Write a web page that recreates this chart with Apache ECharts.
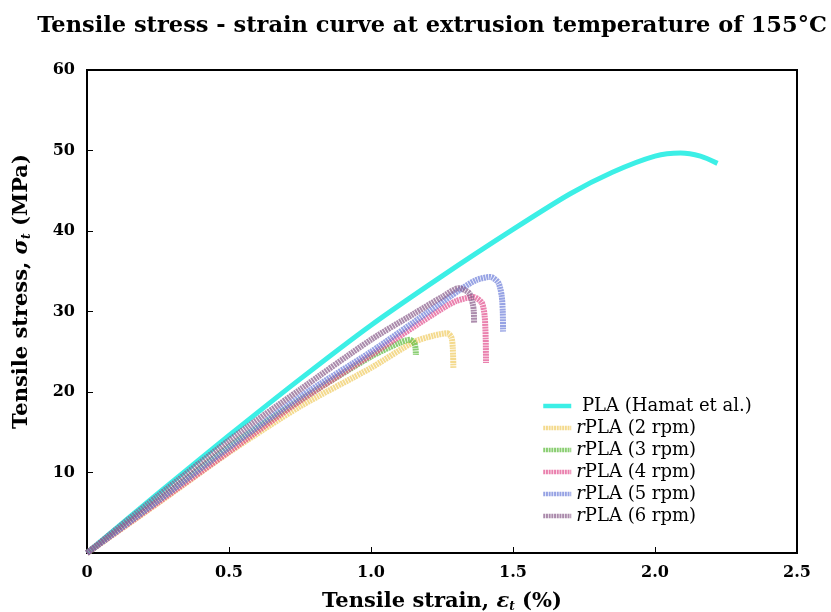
<!DOCTYPE html>
<html>
<head>
<meta charset="utf-8">
<script src="https://cdn.jsdelivr.net/npm/echarts@6/dist/echarts.min.js"></script>
<style>
  html, body { margin: 0; padding: 0; background: #fff; }
  #chart { width: 831px; height: 612px; }
</style>
</head>
<body>
<div id="chart"></div>
<script>
// 应变 (%) / 应力 (MPa)
var plaX = [0, 0.25, 0.5, 0.75, 1.0, 1.25, 1.5, 1.7, 1.85, 2.0, 2.09, 2.16, 2.22];
var plaY = [0, 7.4, 14.6, 21.6, 28.3, 34.4, 40.2, 44.6, 47.3, 49.3, 49.7, 49.3, 48.4];

var rpm2X = [0, 0.25, 0.5, 0.75, 1.0, 1.15, 1.22, 1.268, 1.283, 1.288, 1.29];
var rpm2Y = [0, 6.2, 12.5, 18.2, 23.0, 26.2, 27.0, 27.3, 26.8, 25.5, 23.0];

var rpm3X = [0, 0.25, 0.5, 0.75, 1.0, 1.1, 1.137, 1.152, 1.157, 1.158];
var rpm3Y = [0, 6.5, 13.2, 19.0, 24.4, 26.1, 26.5, 26.1, 25.4, 24.6];

var rpm4X = [0, 0.25, 0.5, 0.75, 1.0, 1.243, 1.3, 1.36, 1.39, 1.40, 1.404, 1.405];
var rpm4Y = [0, 6.3, 12.6, 18.9, 24.6, 30.2, 31.3, 31.8, 31.1, 29.5, 26.5, 23.6];

var rpm5X = [0, 0.25, 0.5, 0.75, 1.0, 1.2, 1.313, 1.37, 1.42, 1.448, 1.46, 1.464, 1.465];
var rpm5Y = [0, 6.5, 13.1, 19.4, 25.0, 29.9, 32.7, 33.9, 34.3, 33.6, 32.0, 30.0, 27.5];

var rpm6X = [0, 0.25, 0.5, 0.75, 1.0, 1.15, 1.25, 1.31, 1.345, 1.358, 1.362, 1.363];
var rpm6Y = [0, 7.1, 14.0, 20.3, 26.5, 29.7, 31.8, 32.9, 32.3, 31.0, 30.0, 28.6];

var seriesNames = ['PLA (Hamat et al.)', 'rPLA (2 rpm)', 'rPLA (3 rpm)', 'rPLA (4 rpm)', 'rPLA (5 rpm)', 'rPLA (6 rpm)'];
var xTicks = ['0', '0.5', '1.0', '1.5', '2.0', '2.5'];

var serif = 'DejaVu Serif';

function pairs(xs, ys) {
	var out = [];
	for (var i = 0; i < xs.length; i++) out.push([xs[i], ys[i]]);
	return out;
}

function curve(name, xs, ys, color, solid) {
	return {
		name: name,
		type: 'line',
		data: pairs(xs, ys),
		showSymbol: false,
		symbol: 'none',
		smooth: 0.25,
		lineStyle: solid ? { color: color, width: 5 } : { color: color, width: 6, type: [2, 0.7], opacity: 0.72, cap: 'butt' },
		itemStyle: { color: color }
	};
}

var myChart = echarts.init(document.getElementById('chart'));
var option = {
	backgroundColor: '#fff',
	animation: false,
	title: {
		text: 'Tensile stress - strain curve at extrusion temperature of 155°C',
		left: 427,
		textAlign: 'center',
		top: 10,
		textStyle: { fontFamily: serif, fontWeight: 'bold', fontSize: 22.5, color: '#000' }
	},
	legend: {
		orient: 'vertical',
		left: 536,
		top: 392,
		itemWidth: 28,
		itemHeight: 14,
		itemGap: 4,
		itemStyle: { opacity: 0 },
		lineStyle: { width: 4.5 },
		data: seriesNames,
		formatter: function(n) {
			if (n.charAt(0) === 'r') return '{i|r}{t|' + n.slice(1) + '}';
			return '{t| ' + n + '}';
		},
		textStyle: {
			rich: {
				i: { fontFamily: serif, fontStyle: 'italic', fontSize: 18, lineHeight: 18, color: '#000' },
				t: { fontFamily: serif, fontSize: 18, lineHeight: 18, color: '#000' }
			}
		}
	},
	grid: {
		left: 87, right: 34, top: 70, bottom: 59,
		outerBoundsMode: 'none',
		show: true, borderColor: '#000', borderWidth: 2
	},
	xAxis: {
		type: 'value',
		min: 0, max: 2.5, interval: 0.5,
		name: 'Tensile strain, {i|ε}{s|t} (%)',
		nameLocation: 'middle',
		nameGap: 38,
		nameTextStyle: {
			fontFamily: serif, fontWeight: 'bold', fontSize: 21, color: '#000',
			rich: {
				i: { fontFamily: serif, fontStyle: 'italic', fontSize: 21, color: '#000' },
				s: { fontFamily: serif, fontStyle: 'italic', fontSize: 12, color: '#000', padding: [10, 0, 0, 0] }
			}
		},
		axisLine: { lineStyle: { color: '#000', width: 2 } },
		axisTick: { inside: true, length: 6, lineStyle: { color: '#000' } },
		splitLine: { show: false },
		axisLabel: {
			margin: 12,
			fontFamily: serif, fontWeight: 'bold', fontSize: 16, color: '#000',
			formatter: function(v) { return xTicks[Math.round(v / 0.5)]; }
		}
	},
	yAxis: {
		type: 'value',
		min: 0, max: 60, interval: 10,
		name: 'Tensile stress, {i|σ}{s|t} (MPa)',
		nameLocation: 'middle',
		nameGap: 54,
		nameTextStyle: {
			fontFamily: serif, fontWeight: 'bold', fontSize: 21, color: '#000',
			padding: [0, 0, 0, 40],
			rich: {
				i: { fontFamily: serif, fontStyle: 'italic', fontSize: 21, color: '#000' },
				s: { fontFamily: serif, fontStyle: 'italic', fontSize: 12, color: '#000', padding: [10, 0, 0, 0] }
			}
		},
		axisLine: { lineStyle: { color: '#000', width: 2 } },
		axisTick: { inside: true, length: 6, lineStyle: { color: '#000' } },
		splitLine: { show: false },
		axisLabel: {
			margin: 12,
			fontFamily: serif, fontWeight: 'bold', fontSize: 16, color: '#000',
			formatter: function(v) { return v === 0 ? '' : String(v); }
		}
	},
	series: [
		curve(seriesNames[0], plaX, plaY, '#3CEFE6', true),
		curve(seriesNames[1], rpm2X, rpm2Y, '#F0CC62', false),
		curve(seriesNames[2], rpm3X, rpm3Y, '#5DBB3C', false),
		curve(seriesNames[3], rpm4X, rpm4Y, '#E2508F', false),
		curve(seriesNames[4], rpm5X, rpm5Y, '#6F80DA', false),
		curve(seriesNames[5], rpm6X, rpm6Y, '#8A5E8C', false)
	]
};
myChart.setOption(option);
</script>
</body>
</html>
